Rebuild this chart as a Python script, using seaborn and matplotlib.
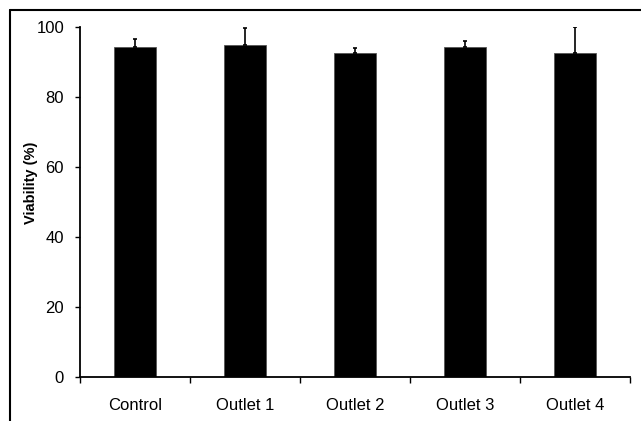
import numpy as np
import pandas as pd
import matplotlib
matplotlib.use("Agg")
import matplotlib.pyplot as plt
from matplotlib.lines import Line2D
import seaborn as sns

# data
groups = ["Control", "Outlet 1", "Outlet 2", "Outlet 3", "Outlet 4"]
viability = [94.4, 95.0, 92.7, 94.4, 92.5]
sd = [2.1, 4.6, 1.2, 1.7, 7.6]

sns.set_theme(style="white")
plt.rcParams["font.family"] = ["Liberation Sans", "DejaVu Sans"]
plt.rcParams["text.color"] = "black"
plt.rcParams["axes.labelcolor"] = "black"
plt.rcParams["xtick.color"] = "black"
plt.rcParams["ytick.color"] = "black"

df = pd.DataFrame({"group": groups, "viability": viability})

fig = plt.figure(figsize=(6.41, 4.21), dpi=100)
ax = fig.add_axes([80 / 641, 44 / 421, 550 / 641, 350 / 421])

sns.barplot(data=df, x="group", y="viability", color="black",
            width=0.38, errorbar=None, ax=ax, saturation=1)
for p in ax.patches:
    p.set_edgecolor("#555555")
    p.set_linewidth(0.6)

# upward-only error bars
xpos = np.arange(len(groups))
ax.errorbar(xpos, viability, yerr=[np.zeros(len(sd)), sd], fmt="none",
            ecolor="black", elinewidth=1.2, capsize=1.6, capthick=1.2)

ax.set_xlim(-0.5, len(groups) - 0.5)
ax.set_ylim(0, 100)
ax.set_yticks([0, 20, 40, 60, 80, 100])
ax.set_xlabel("")
ax.set_ylabel("Viability (%)", fontsize=10.5, fontweight="bold", color="black")
ax.yaxis.set_label_coords(-0.076, 0.554)

for s in ["top", "right"]:
    ax.spines[s].set_visible(False)
for s in ["left", "bottom"]:
    ax.spines[s].set_color("black")
    ax.spines[s].set_linewidth(1.3)

ax.tick_params(axis="y", direction="out", length=3.5, width=1, color="black",
               labelcolor="black", left=True, labelsize=12, pad=8)
ax.tick_params(axis="x", which="major", length=0, labelsize=12, pad=15,
               labelcolor="black")
ax.set_xticks(np.arange(-0.5, len(groups)), minor=True)
ax.tick_params(axis="x", which="minor", direction="out", length=4,
               width=1, color="black", bottom=True)

# frame lines on the figure (top and left)
fig.add_artist(Line2D([10 / 641, 1], [1 - 10 / 421, 1 - 10 / 421],
                      color="black", lw=1.5, transform=fig.transFigure))
fig.add_artist(Line2D([10 / 641, 10 / 641], [0, 1 - 10 / 421],
                      color="black", lw=1.5, transform=fig.transFigure))

fig.savefig("out.png", dpi=100)
